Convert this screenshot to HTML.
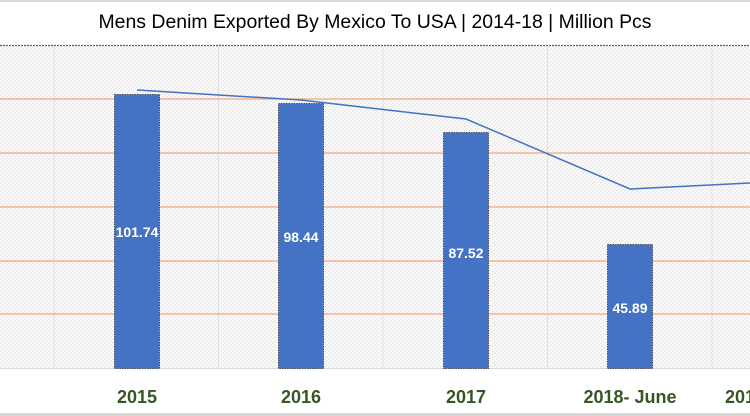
<!DOCTYPE html>
<html><head><style>body{margin:0;background:#fff}svg{display:block}</style></head>
<body>
<svg width="750" height="416" xmlns="http://www.w3.org/2000/svg" font-family="Liberation Sans, sans-serif">
<defs>
<pattern id="h" width="4" height="4" patternUnits="userSpaceOnUse">
<rect width="4" height="4" fill="#fbfbfb"/>
<path d="M0 4L4 0" stroke="#e6e6e6" stroke-width="1"/>
</pattern>
</defs>
<rect x="0" y="0" width="750" height="2" fill="#d9d9d9"/>
<text x="375" y="28" text-anchor="middle" font-size="19" textLength="553" lengthAdjust="spacingAndGlyphs" fill="#000">Mens Denim Exported By Mexico To USA | 2014-18 | Million Pcs</text>
<rect x="0" y="45" width="750" height="323" fill="url(#h)"/>
<line x1="0" y1="45.5" x2="750" y2="45.5" stroke="#7a5a4a" stroke-width="1.2" stroke-dasharray="2,1"/>
<g stroke="#e0e0e0" stroke-width="1">
<line x1="54" y1="46" x2="54" y2="368"/><line x1="218.5" y1="46" x2="218.5" y2="368"/>
<line x1="383" y1="46" x2="383" y2="368"/><line x1="547.5" y1="46" x2="547.5" y2="368"/>
<line x1="712" y1="46" x2="712" y2="368"/>
</g>
<g stroke="#f4a97a" stroke-width="1.3">
<line x1="0" y1="99" x2="750" y2="99"/><line x1="0" y1="153" x2="750" y2="153"/>
<line x1="0" y1="207" x2="750" y2="207"/><line x1="0" y1="261" x2="750" y2="261"/>
<line x1="0" y1="314" x2="750" y2="314"/>
</g>
<line x1="0" y1="368.5" x2="750" y2="368.5" stroke="#d9d9d9"/>
<g fill="#4472c4" stroke="#333" stroke-width="0.8" stroke-dasharray="1.5,1">
<rect x="114.5" y="94.5" width="45" height="274"/>
<rect x="278.5" y="103.5" width="45" height="265"/>
<rect x="443.5" y="132.5" width="45" height="236"/>
<rect x="607.5" y="244.5" width="45" height="124"/>
</g>
<polyline points="137,90 301,100 466,119 630,189 750,183" fill="none" stroke="#4472c4" stroke-width="1.5"/>
<g fill="#fff" font-size="14" font-weight="bold" text-anchor="middle">
<text x="137" y="237">101.74</text><text x="301" y="242">98.44</text>
<text x="466" y="258">87.52</text><text x="630" y="313">45.89</text>
</g>
<g fill="#375623" font-size="18" font-weight="bold" text-anchor="middle">
<text x="137" y="403">2015</text><text x="301" y="403">2016</text>
<text x="466" y="403">2017</text><text x="630" y="403">2018- June</text>
<text x="745" y="403">2018</text>
</g>
<rect x="0" y="413" width="750" height="3" fill="#d9d9d9"/>
</svg>
</body></html>
